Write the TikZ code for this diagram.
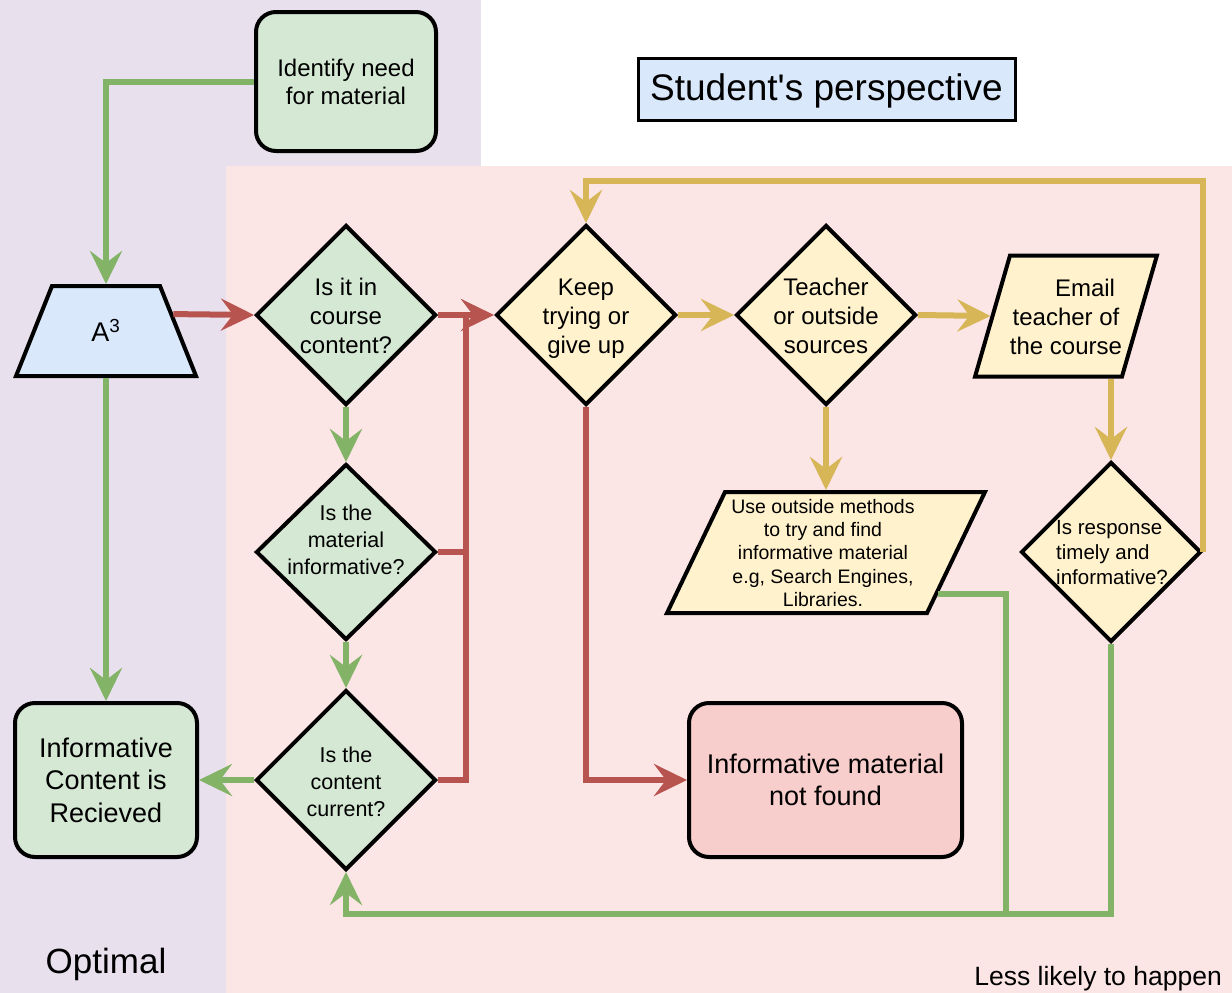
\documentclass[tikz,border=0pt]{standalone}
\usepackage{fontspec}
\setmainfont{Liberation Sans}[Ligatures=TeXOff]
\usetikzlibrary{shapes.geometric,arrows.meta,calc}
\definecolor{gline}{HTML}{82B366}
\definecolor{rline}{HTML}{B85450}
\definecolor{yline}{HTML}{D6B656}
\definecolor{gfill}{HTML}{D5E8D4}
\definecolor{yfill}{HTML}{FFF2CC}
\definecolor{bfill}{HTML}{DAE8FC}
\definecolor{rfill}{HTML}{F8CECC}
\definecolor{optbg}{HTML}{E9E0EE}
\definecolor{lessbg}{HTML}{FBE5E5}
% empty box that fixes the inner body of a trapezium (width, height)
\newcommand{\bodybox}[2]{\hbox to #1{\vrule width 0pt height #2 depth 0pt\hfil}}
\tikzset{
  box/.style={draw, line width=4pt, rounded corners=20pt, inner sep=0pt, align=center},
  dia/.style={draw, shape=diamond, line width=4pt, minimum width=180pt, minimum height=180pt, inner sep=0pt},
  para/.style={draw, shape=trapezium, line width=4pt, inner sep=0pt},
  lbl/.style={align=center, inner sep=0pt},
  arr/.style={-{Stealth[length=33pt,width=32pt,inset=12pt]}},
  gconn/.style={draw=gline, line width=6pt},
  rconn/.style={draw=rline, line width=6pt},
  yconn/.style={draw=yline, line width=6pt},
  fs/.style 2 args={font=\fontsize{#1}{#2}\selectfont},
}
\begin{document}
\begin{tikzpicture}[x=1pt,y=-1pt]
\useasboundingbox (0,0) rectangle (1232,993);
% background regions
\fill[optbg] (0,0) rectangle (481,993);
\fill[lessbg] (226,166) rectangle (1232,993);

% title
\node[draw, line width=3pt, fill=bfill, minimum width=377pt, minimum height=62pt, inner sep=0pt] (title) at (826.5,89) {};
\node[lbl, fs={37}{44}] (titlet) at (826.5,91) {Student's perspective};

% shapes
\node[box, fill=gfill, minimum width=180pt, minimum height=139pt, fs={24}{28}] (id) at (346,81.5) {Identify need\\for material};
\node[para, fill=bfill, trapezium left angle=68.2, trapezium right angle=68.2] (a3) at (106,331) {\bodybox{108pt}{90pt}};
\node[lbl, fs={27}{30}] (a3t) at (106,330) {A\textsuperscript{3}};

\node[dia, fill=gfill] (d1) at (346,315) {};
\node[lbl, fs={24}{29}] (d1t) at (346,316) {Is it in\\course\\content?};
\node[dia, fill=gfill, minimum height=176pt] (d2) at (346,552) {};
\node[lbl, fs={21.5}{27}] (d2t) at (346,540) {Is the\\material\\informative?};
\node[dia, fill=gfill] (d3) at (346,780) {};
\node[lbl, fs={21.5}{27}] (d3t) at (346,781.5) {Is the\\content\\current?};

\node[box, fill=gfill, minimum width=182pt, minimum height=154pt, fs={27}{32.5}] (ic) at (106,780) {Informative\\Content is\\Recieved};

\node[dia, fill=yfill] (keep) at (586,315) {};
\node[lbl, fs={24}{29}] (keept) at (586,318.5) {Keep\\trying or\\give up};
\node[dia, fill=yfill] (tc) at (826,315) {};
\node[lbl, fs={24}{29}] (tct) at (826,316) {Teacher\\or outside\\sources};

\node[para, fill=yfill, trapezium left angle=73.9, trapezium right angle=106.1] (em) at (1066,316) {\bodybox{112pt}{121pt}};
\node[lbl, fs={24}{29}] (emt) at (1066,317) {\hspace*{38pt}Email\\teacher of\\the course};

\node[para, fill=yfill, trapezium left angle=64.4, trapezium right angle=115.6] (uo) at (826,552.5) {\bodybox{202pt}{121pt}};
\node[lbl, fs={19.5}{23.2}] (uot) at (823,553) {Use outside methods\\to try and find\\informative material\\e.g, Search Engines,\\Libraries.};

\node[dia, fill=yfill] (isr) at (1111,552) {};
\node[lbl, align=left, anchor=west, fs={20.5}{25}] (isrt) at (1056,553) {Is response\\timely and\\informative?};

\node[box, fill=rfill, minimum width=273pt, minimum height=154pt, fs={27}{32}] (nf) at (825.5,780) {Informative material\\not found};

% region labels
\node[lbl, anchor=base, fs={35}{40}] (opt) at (106,973) {Optimal};
\node[lbl, anchor=base east, fs={26.5}{30}] (less) at (1222,985) {Less likely to happen};

% junction points
\coordinate (rj) at (466,315);
\coordinate (gj) at (1006,914);
\coordinate (loop) at (1200,181);

% green connectors
\draw[gconn, arr] (id.west) -| (a3.north);
\draw[gconn, arr] (a3.south) -- (ic.north);
\draw[gconn, arr] (d1.south) -- (d2.north);
\draw[gconn, arr] (d2.south) -- (d3.north);
\draw[gconn, arr] (d3.west) -- (ic.east);
\draw[gconn] ($(uo.top right corner)!0.83!(uo.bottom right corner)$) -| (gj);
\draw[gconn] (isr.south) |- (gj);
\draw[gconn, arr] (gj) -| (d3.south);

% red connectors
\draw[rconn] (d2.east) -| (rj);
\draw[rconn] (d3.east) -| (rj);
\draw[rconn, arr] ($(a3.top right corner)!0.32!(a3.bottom right corner)$) -- (d1.west);
\draw[rconn, arr] (d1.east) -- (keep.west);
\draw[rconn, arr] (keep.south) |- (nf.west);

% yellow connectors
\draw[yconn, arr] (keep.east) -- (tc.west);
\draw[yconn, arr] (tc.east) -- (em.left side);
\draw[yconn, arr] (tc.south) -- (tc.south |- uo.north);
\draw[yconn, arr] (em.south -| isr.north) -- (isr.north);
\draw[yconn, arr] (isr.east) -- (isr.east |- loop) -| (keep.north);
\end{tikzpicture}
\end{document}
